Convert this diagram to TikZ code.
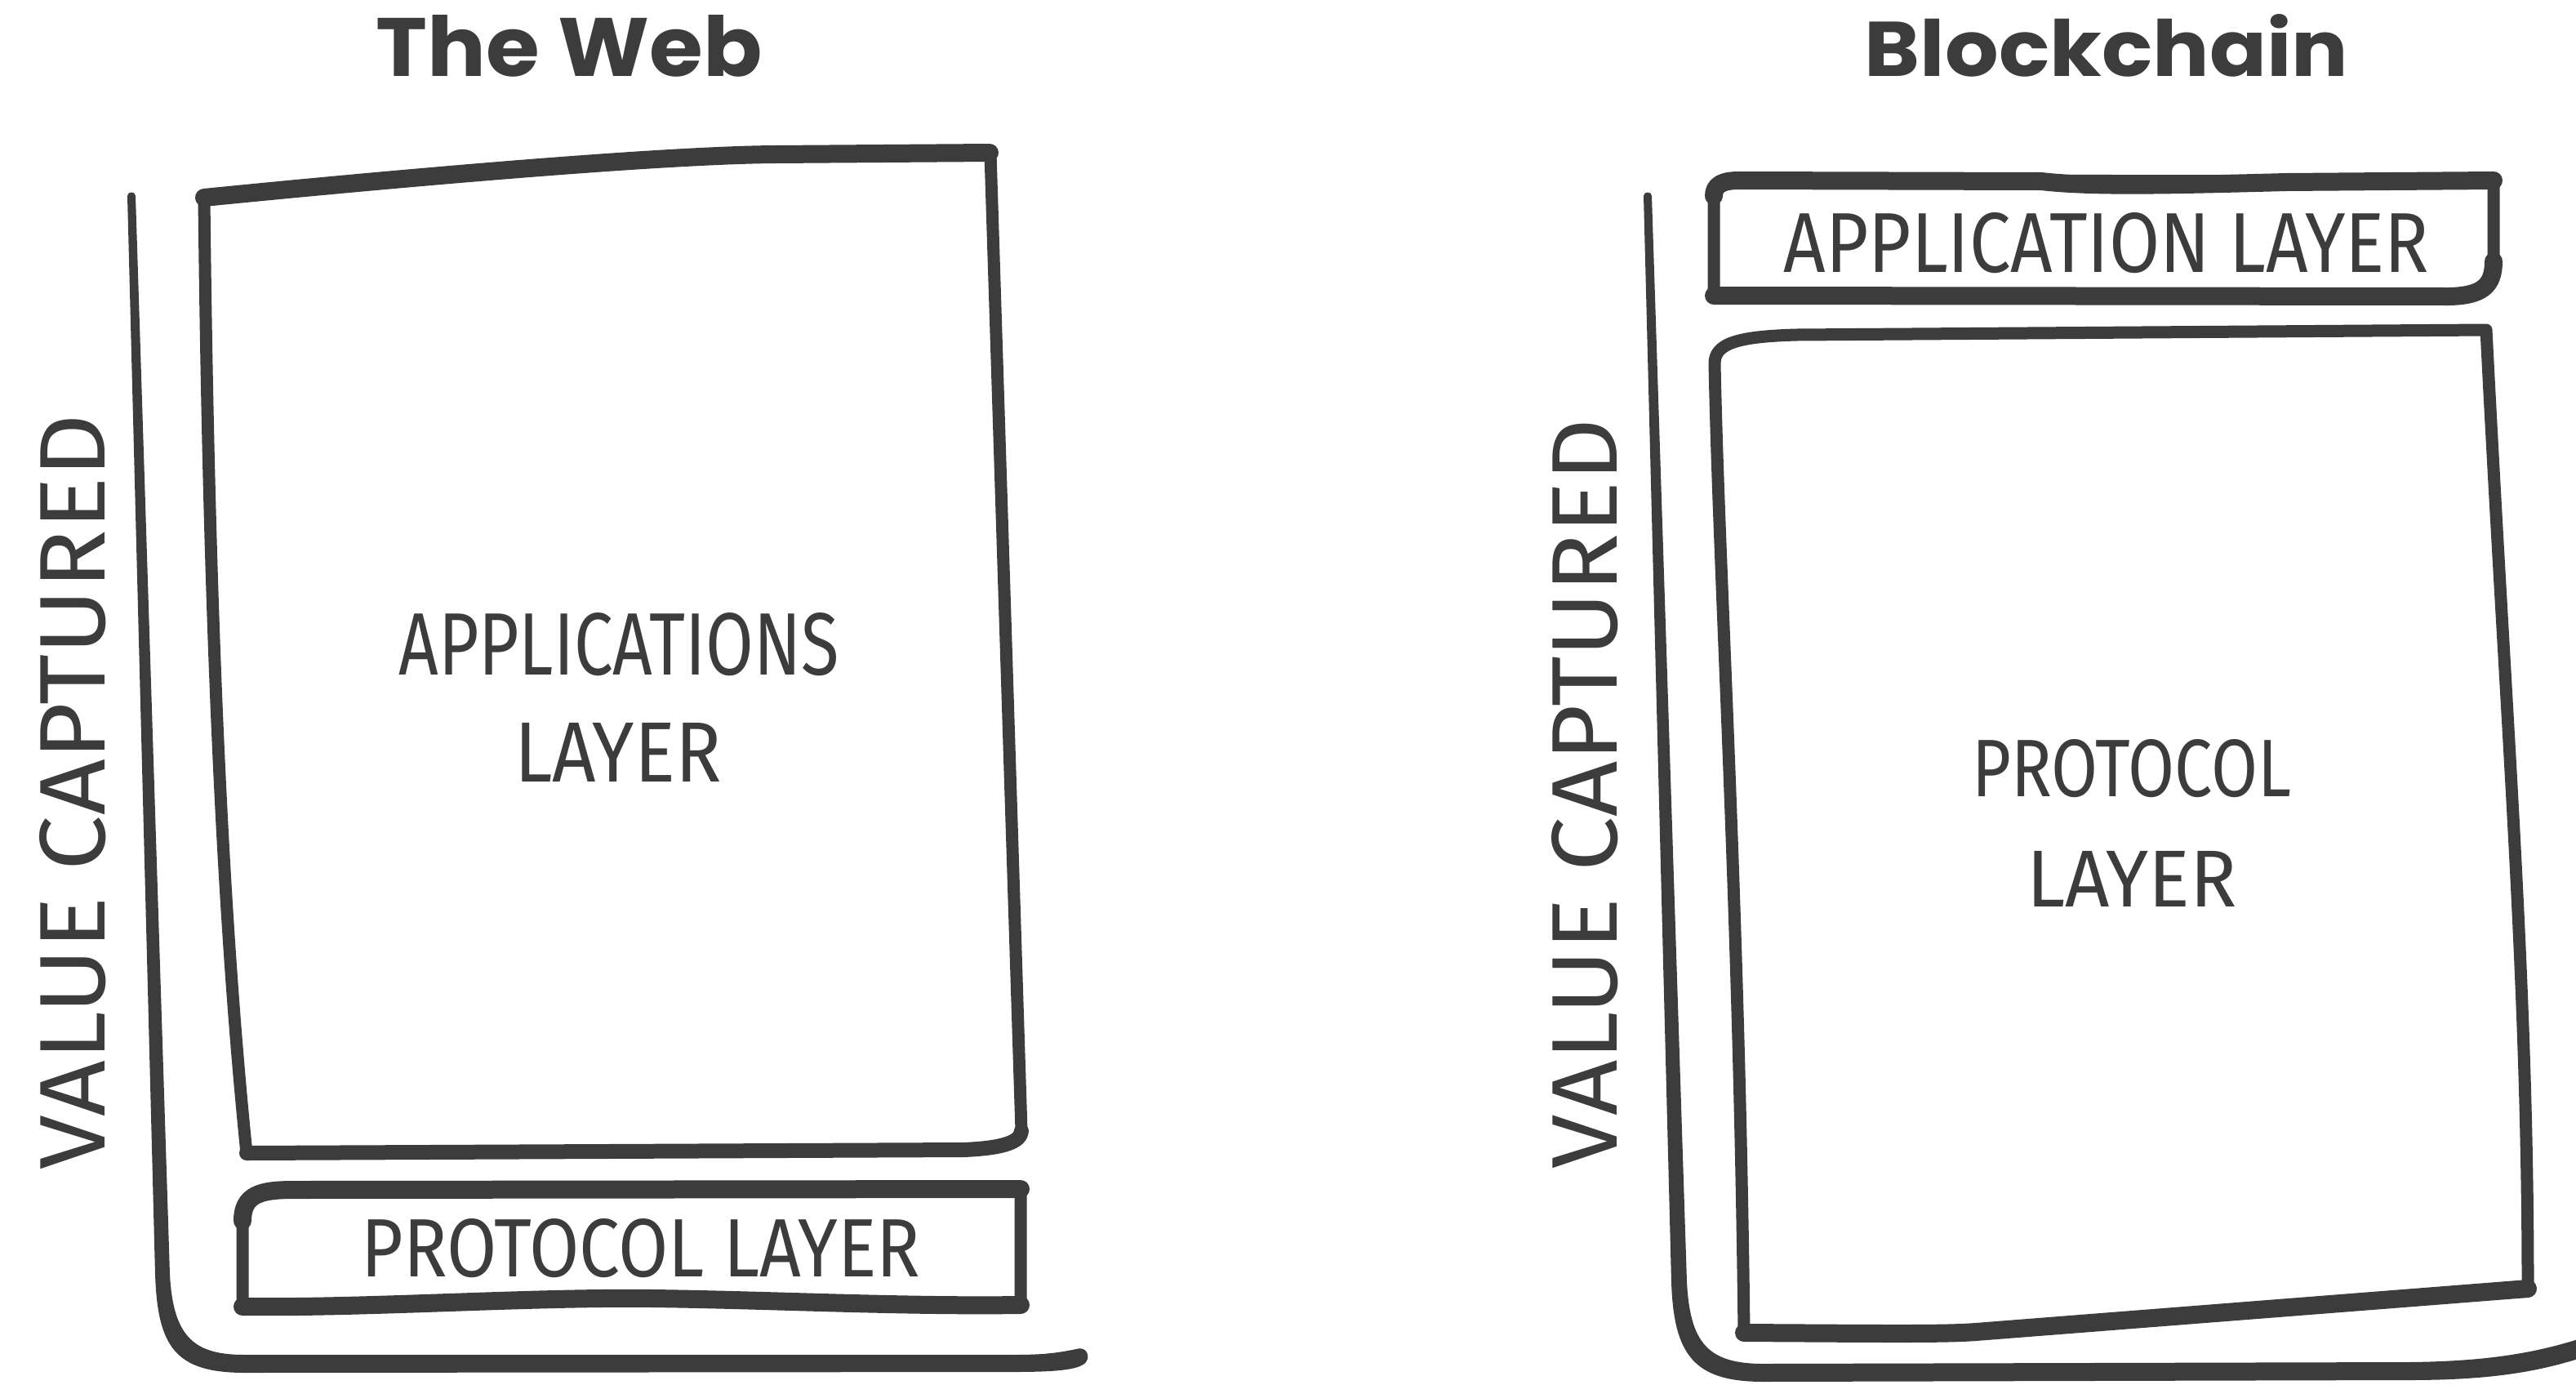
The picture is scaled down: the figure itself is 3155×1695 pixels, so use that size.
\documentclass[tikz,border=0pt]{standalone}
\usepackage{graphicx}
\usepackage{fontspec}
\newfontfamily\titlef{Poppins}
\newfontfamily\hand{Fira Sans}
\definecolor{ink}{HTML}{3C3C3C}
\tikzset{
  box/.style={draw=ink, line width=15, line join=round, line cap=round},
  heavy/.style={draw=ink, line width=22, line join=round, line cap=round},
  axisfill/.style={fill=ink, draw=none},
  txt/.style={inner sep=0pt, outer sep=0pt, text=ink, anchor=base},
}
\begin{document}
\begin{tikzpicture}[x=1pt,y=-1pt]
\useasboundingbox[fill=white] (0,0) rectangle (3155,1695);

% ---------- left panel ----------
\node[txt] (tweb) at (697,93) {\resizebox{473pt}{75pt}{\titlef\bfseries The Web}};

% axis
\fill[axisfill] (156,240) -- (190,1560) .. controls (193,1650) and (215,1681) .. (300,1681)
  -- (1240,1680) .. controls (1290,1680) and (1322,1678) .. (1330,1668)
  .. controls (1336,1660) and (1330,1648) .. (1318,1652)
  .. controls (1290,1658) and (1270,1659) .. (1240,1659) -- (300,1659)
  .. controls (240,1659) and (212,1640) .. (208,1560) -- (166,240)
  .. controls (166,234) and (156,234) .. (156,240) -- cycle;

% applications box
\draw[box] (250,242) .. controls (255,700) and (270,1100) .. (302,1412)
  -- (1180,1408) .. controls (1230,1406) and (1250,1398) .. (1251,1385)
  -- (1213,188) -- (950,190) .. controls (800,190) and (450,222) .. (250,242) -- cycle;
\draw[heavy] (250,242) .. controls (450,222) and (800,190) .. (950,189) -- (1212,187);
\draw[heavy, line width=18] (302,1412) -- (1180,1408) .. controls (1230,1406) and (1250,1398) .. (1251,1385);
\node[txt] (appL1) at (758,826) {\resizebox{539pt}{76pt}{\hand APPLICATIONS}};
\node[txt] (appL2) at (757,957) {\resizebox{253pt}{72pt}{\hand LAYER}};

% protocol box
\draw[box] (297,1600) -- (297,1490) .. controls (297,1462) and (320,1457) .. (360,1457)
  -- (1250,1456) -- (1250,1598) .. controls (1100,1600) and (950,1592) .. (800,1590)
  .. controls (650,1588) and (450,1602) .. (297,1600) -- cycle;
\draw[heavy] (297,1495) .. controls (297,1462) and (320,1457) .. (360,1457) -- (1250,1456);
\draw[heavy] (1250,1598) .. controls (1100,1600) and (950,1592) .. (800,1590)
  .. controls (650,1588) and (450,1602) .. (297,1600);
\node[txt] (protL) at (785,1563) {\resizebox{684pt}{71pt}{\hand PROTOCOL LAYER}};

% value captured
\node[txt, rotate=90] (valL) at (128,970) {\resizebox{925pt}{80pt}{\hand VALUE CAPTURED}};

% ---------- right panel ----------
\node[txt] (tblock) at (2580,93) {\resizebox{592pt}{76pt}{\titlef\bfseries Blockchain}};

% axis
\fill[axisfill] (2013,240) -- (2047,1570) .. controls (2050,1660) and (2075,1692) .. (2160,1692)
  -- (2950,1690) .. controls (3050,1690) and (3110,1680) .. (3170,1660)
  -- (3170,1636) .. controls (3110,1656) and (3050,1667) .. (2950,1668)
  -- (2160,1670) .. controls (2092,1670) and (2070,1645) .. (2066,1570)
  -- (2023,240) .. controls (2023,234) and (2013,234) .. (2013,240) -- cycle;

% application box
\draw[box] (2099,240) -- (2099,362) -- (3000,363) .. controls (3040,362) and (3054,350) .. (3054,320)
  -- (3054,222) -- (2130,221) .. controls (2110,221) and (2099,226) .. (2099,240) -- cycle;
\draw[heavy] (2099,240) .. controls (2099,226) and (2110,221) .. (2130,221) -- (2500,222)
  .. controls (2560,229) and (2650,227) .. (2800,223) -- (3054,221);
\draw[heavy] (2099,362) -- (3000,363) .. controls (3040,362) and (3054,350) .. (3054,320);
\node[txt] (appR) at (2580,333) {\resizebox{790pt}{73pt}{\hand APPLICATION LAYER}};

% protocol box
\draw[box] (2100,445) .. controls (2100,420) and (2130,412) .. (2200,410)
  -- (3045,404) .. controls (3070,900) and (3096,1200) .. (3096,1575)
  -- (2420,1630) .. controls (2380,1634) and (2300,1633) .. (2136,1632)
  .. controls (2130,1100) and (2105,700) .. (2100,445) -- cycle;
\draw[heavy] (3096,1578) -- (2420,1631) .. controls (2380,1634) and (2300,1633) .. (2136,1632);
\node[txt] (protR1) at (2611,975) {\resizebox{391pt}{70pt}{\hand PROTOCOL}};
\node[txt] (protR2) at (2611,1110) {\resizebox{257pt}{68pt}{\hand LAYER}};

% value captured
\node[txt, rotate=90] (valR) at (1980,972) {\resizebox{919pt}{80pt}{\hand VALUE CAPTURED}};
\end{tikzpicture}
\end{document}
